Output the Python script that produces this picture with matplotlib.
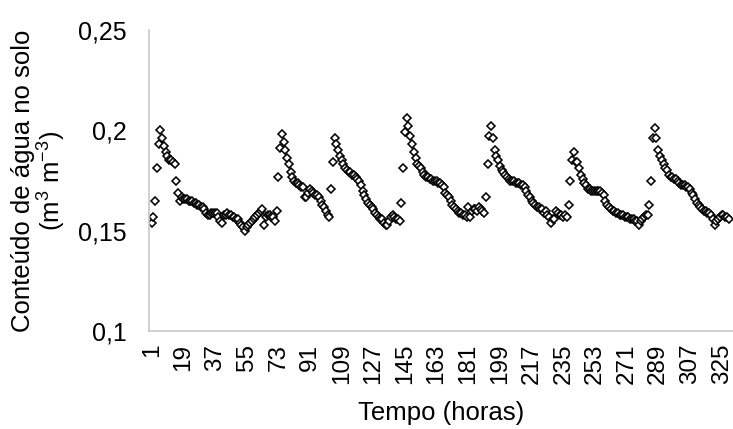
import matplotlib
matplotlib.use("Agg")
import matplotlib.pyplot as plt

plt.rcParams['font.family'] = ['Liberation Sans', 'DejaVu Sans']
plt.rcParams['mathtext.fontset'] = 'custom'
plt.rcParams['mathtext.rm'] = 'Liberation Sans'

# --- dados: conteúdo de água no solo, leitura horária (h 1..329) ---
cycle1 = [0.154, 0.157, 0.165, 0.181, 0.193, 0.200, 0.196, 0.192, 0.189, 0.187,
          0.185, 0.185, 0.184, 0.183, 0.175, 0.169, 0.165, 0.167, 0.166, 0.166,
          0.166, 0.165, 0.165, 0.165, 0.164, 0.164, 0.163, 0.163, 0.162, 0.162,
          0.161, 0.159, 0.158, 0.158, 0.159, 0.159, 0.159, 0.159, 0.157, 0.155,
          0.154, 0.158, 0.158, 0.159, 0.158, 0.158, 0.157, 0.157, 0.156, 0.156,
          0.154, 0.153, 0.152, 0.150, 0.152, 0.153, 0.154, 0.155, 0.156, 0.157,
          0.158, 0.159, 0.160, 0.161, 0.153, 0.157, 0.158, 0.158, 0.157, 0.157,
          0.155, 0.160]
cycle2 = [0.177, 0.191, 0.198, 0.194, 0.190, 0.186, 0.183, 0.179, 0.177, 0.175,
          0.174, 0.174, 0.173, 0.172, 0.172, 0.167, 0.167, 0.169, 0.171, 0.170,
          0.169, 0.168, 0.168, 0.167, 0.165, 0.163, 0.162, 0.160, 0.158, 0.157]
cycle3 = [0.171, 0.184, 0.196, 0.193, 0.190, 0.187, 0.185, 0.183, 0.181, 0.180,
          0.179, 0.179, 0.178, 0.178, 0.177, 0.176, 0.175, 0.173, 0.170, 0.168,
          0.166, 0.164, 0.163, 0.162, 0.161, 0.159, 0.158, 0.157, 0.156, 0.156,
          0.154, 0.153, 0.153, 0.155, 0.157, 0.158, 0.157, 0.156, 0.156, 0.155]
cycle4 = [0.164, 0.181, 0.199, 0.206, 0.202, 0.197, 0.193, 0.189, 0.186, 0.183,
          0.182, 0.181, 0.179, 0.178, 0.177, 0.177, 0.176, 0.176, 0.175, 0.175,
          0.175, 0.174, 0.174, 0.173, 0.172, 0.169, 0.168, 0.167, 0.165, 0.163,
          0.162, 0.161, 0.160, 0.159, 0.159, 0.158, 0.158, 0.157, 0.162, 0.157,
          0.160, 0.161, 0.161, 0.160, 0.162, 0.161, 0.160, 0.159]
cycle5 = [0.167, 0.183, 0.197, 0.202, 0.196, 0.190, 0.187, 0.185, 0.182, 0.180,
          0.179, 0.178, 0.177, 0.176, 0.175, 0.175, 0.175, 0.174, 0.174, 0.174,
          0.173, 0.173, 0.172, 0.170, 0.168, 0.167, 0.165, 0.164, 0.163, 0.162,
          0.162, 0.161, 0.161, 0.159, 0.160, 0.158, 0.157, 0.154, 0.156, 0.156,
          0.160, 0.159, 0.158, 0.158, 0.157, 0.158, 0.157]
cycle6 = [0.163, 0.175, 0.185, 0.189, 0.184, 0.184, 0.181, 0.178, 0.176, 0.174,
          0.173, 0.171, 0.171, 0.170, 0.170, 0.170, 0.170, 0.170, 0.170, 0.169,
          0.168, 0.165, 0.163, 0.162, 0.161, 0.160, 0.160, 0.159, 0.159, 0.158,
          0.158, 0.158, 0.157, 0.157, 0.157, 0.156, 0.156, 0.156, 0.155, 0.155,
          0.153, 0.155, 0.156, 0.157, 0.158, 0.158]
cycle7 = [0.163, 0.175, 0.196, 0.201, 0.196, 0.190, 0.187, 0.185, 0.183, 0.181,
          0.180, 0.178, 0.177, 0.177, 0.176, 0.176, 0.175, 0.174, 0.173, 0.173,
          0.173, 0.172, 0.172, 0.171, 0.169, 0.168, 0.166, 0.164, 0.163, 0.162,
          0.161, 0.160, 0.160, 0.159, 0.159, 0.158, 0.156, 0.153, 0.155, 0.156,
          0.157, 0.158, 0.158, 0.157, 0.157, 0.156]

theta = cycle1 + cycle2 + cycle3 + cycle4 + cycle5 + cycle6 + cycle7
hours = list(range(1, len(theta) + 1))

xtick_pos = list(range(1, 326, 18))
ytick_pos = [0.1, 0.15, 0.2, 0.25]
ytick_labels = ["0,1", "0,15", "0,2", "0,25"]

# --- gráfico ---
fig = plt.figure(figsize=(7.33, 4.29), dpi=100)
ax = fig.add_axes([0.2033, 0.2284, 0.7967, 0.7016])

ax.plot(hours, theta, linestyle='none', marker='D', markersize=3.6,
        markerfacecolor='white', markeredgecolor='black', markeredgewidth=1.15)

ax.set_xlim(-0.5, 331.5)
ax.set_ylim(0.1, 0.25)
ax.set_xticks(xtick_pos)
ax.set_xticklabels([str(v) for v in xtick_pos], rotation=90, fontsize=17.5)
ax.set_yticks(ytick_pos)
ax.set_yticklabels(ytick_labels, fontsize=18)
ax.tick_params(axis='x', length=0, pad=9)
ax.tick_params(axis='y', length=0, pad=16)

for side in ['top', 'right']:
    ax.spines[side].set_visible(False)
for side in ['left', 'bottom']:
    ax.spines[side].set_color('#c8c8c8')
    ax.spines[side].set_linewidth(1.2)

ax.set_xlabel("Tempo (horas)", fontsize=18.5, labelpad=12)
ax.set_ylabel("Conteúdo de água no solo\n(m$^{\\mathrm{3}}$ m$^{\\mathrm{-3}}$)",
              fontsize=18.5, labelpad=8, linespacing=0.95)

fig.savefig("out.png", dpi=100)
